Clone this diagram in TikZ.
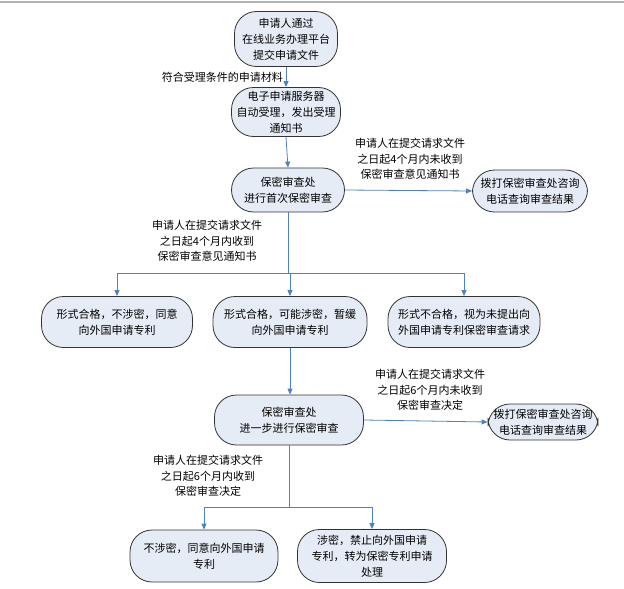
\documentclass[tikz,border=0pt]{standalone}
\usepackage{fontspec}
\newfontfamily\cjk{Noto Sans CJK SC}
\usetikzlibrary{arrows.meta}
\definecolor{lineblue}{HTML}{4F81BD}
\definecolor{boxfill}{HTML}{E6ECF6}
\definecolor{boxdraw}{HTML}{333333}
\definecolor{topline}{HTML}{B4B4B4}
\begin{document}
\begin{tikzpicture}[x=1pt,y=-1pt,
  box/.style={draw=boxdraw, line width=0.8pt, fill=boxfill, rounded corners=22pt,
    align=center, inner sep=0pt, font=\cjk\fontsize{11}{16}\selectfont},
  lbl/.style={align=center, inner sep=0pt, font=\cjk\fontsize{11}{15.5}\selectfont},
  conn/.style={draw=lineblue, line width=0.8pt},
  arr/.style={conn, -{Triangle[width=5pt,length=6pt]}}]
\useasboundingbox (0,0) rectangle (624,589);
\draw[topline, line width=1.2pt] (0,2) -- (624,2);

% nodes
\node[box, minimum width=103pt, minimum height=55pt] (n1) at (286,39) {申请人通过\\在线业务办理平台\\提交申请文件};
\node[box, minimum width=109pt, minimum height=49pt] (n2) at (286,112) {电子申请服务器\\自动受理，发出受理\\通知书};
\node[box, minimum width=113pt, minimum height=44pt] (n3) at (288,190) {保密审查处\\进行首次保密审查};
\node[box, minimum width=115pt, minimum height=42pt] (n4) at (530,191) {拨打保密审查处咨询\\电话查询审查结果};
\node[box, minimum width=151pt, minimum height=51pt] (bA) at (117,322) {形式合格，不涉密，同意\\向外国申请专利};
\node[box, minimum width=154pt, minimum height=51pt] (bB) at (290,322) {形式合格，可能涉密，暂缓\\向外国申请专利};
\node[box, minimum width=152pt, minimum height=51pt] (bC) at (464,322) {形式不合格，视为未提出向\\外国申请专利保密审查请求};
\node[box, minimum width=149pt, minimum height=50pt] (n5) at (289,420) {保密审查处\\进一步进行保密审查};
\node[box, minimum width=110pt, minimum height=36pt] (n6) at (543,422) {拨打保密审查处咨询\\电话查询审查结果};
\node[box, minimum width=148pt, minimum height=52pt] (bD) at (204,556) {不涉密，同意向外国申请\\专利};
\node[box, minimum width=149pt, minimum height=53pt] (bE) at (372,556) {涉密，禁止向外国申请\\专利，转为保密专利申请\\处理};

% labels
\node[lbl, anchor=east] (l1) at (283,77) {符合受理条件的申请材料};
\node[lbl] (l2) at (410,159) {申请人在提交请求文件\\之日起4个月内未收到\\保密审查意见通知书};
\node[lbl] (l3) at (207,241) {申请人在提交请求文件\\之日起4个月内收到\\保密审查意见通知书};
\node[lbl] (l4) at (430,390) {申请人在提交请求文件\\之日起6个月内未收到\\保密审查决定};
\node[lbl] (l5) at (208,476) {申请人在提交请求文件\\之日起6个月内收到\\保密审查决定};

% connectors
\draw[arr] (n1.south) -- (n2.north);
\draw[arr] (n2.south) -- (n3.north);
\draw[arr] (n3.east) -- (n4.west);
\coordinate (j1) at (288,273);
\draw[conn] (n3.south) -- (n3.south |- j1);
\draw[conn] (bA.north |- j1) -- (bC.north |- j1);
\draw[arr] (bA.north |- j1) -- (bA.north);
\draw[arr] (bB.north |- j1) -- (bB.north);
\draw[arr] (bC.north |- j1) -- (bC.north);
\draw[arr] (bB.south) -- (bB.south |- n5.north);
\draw[arr] (n5.east) -- (n6.west);
\coordinate (j2) at (289,507);
\draw[conn] (n5.south) -- (n5.south |- j2);
\draw[conn] (bD.north |- j2) -- (bE.north |- j2);
\draw[arr] (bD.north |- j2) -- (bD.north);
\draw[arr] (bE.north |- j2) -- (bE.north);
\end{tikzpicture}
\end{document}
